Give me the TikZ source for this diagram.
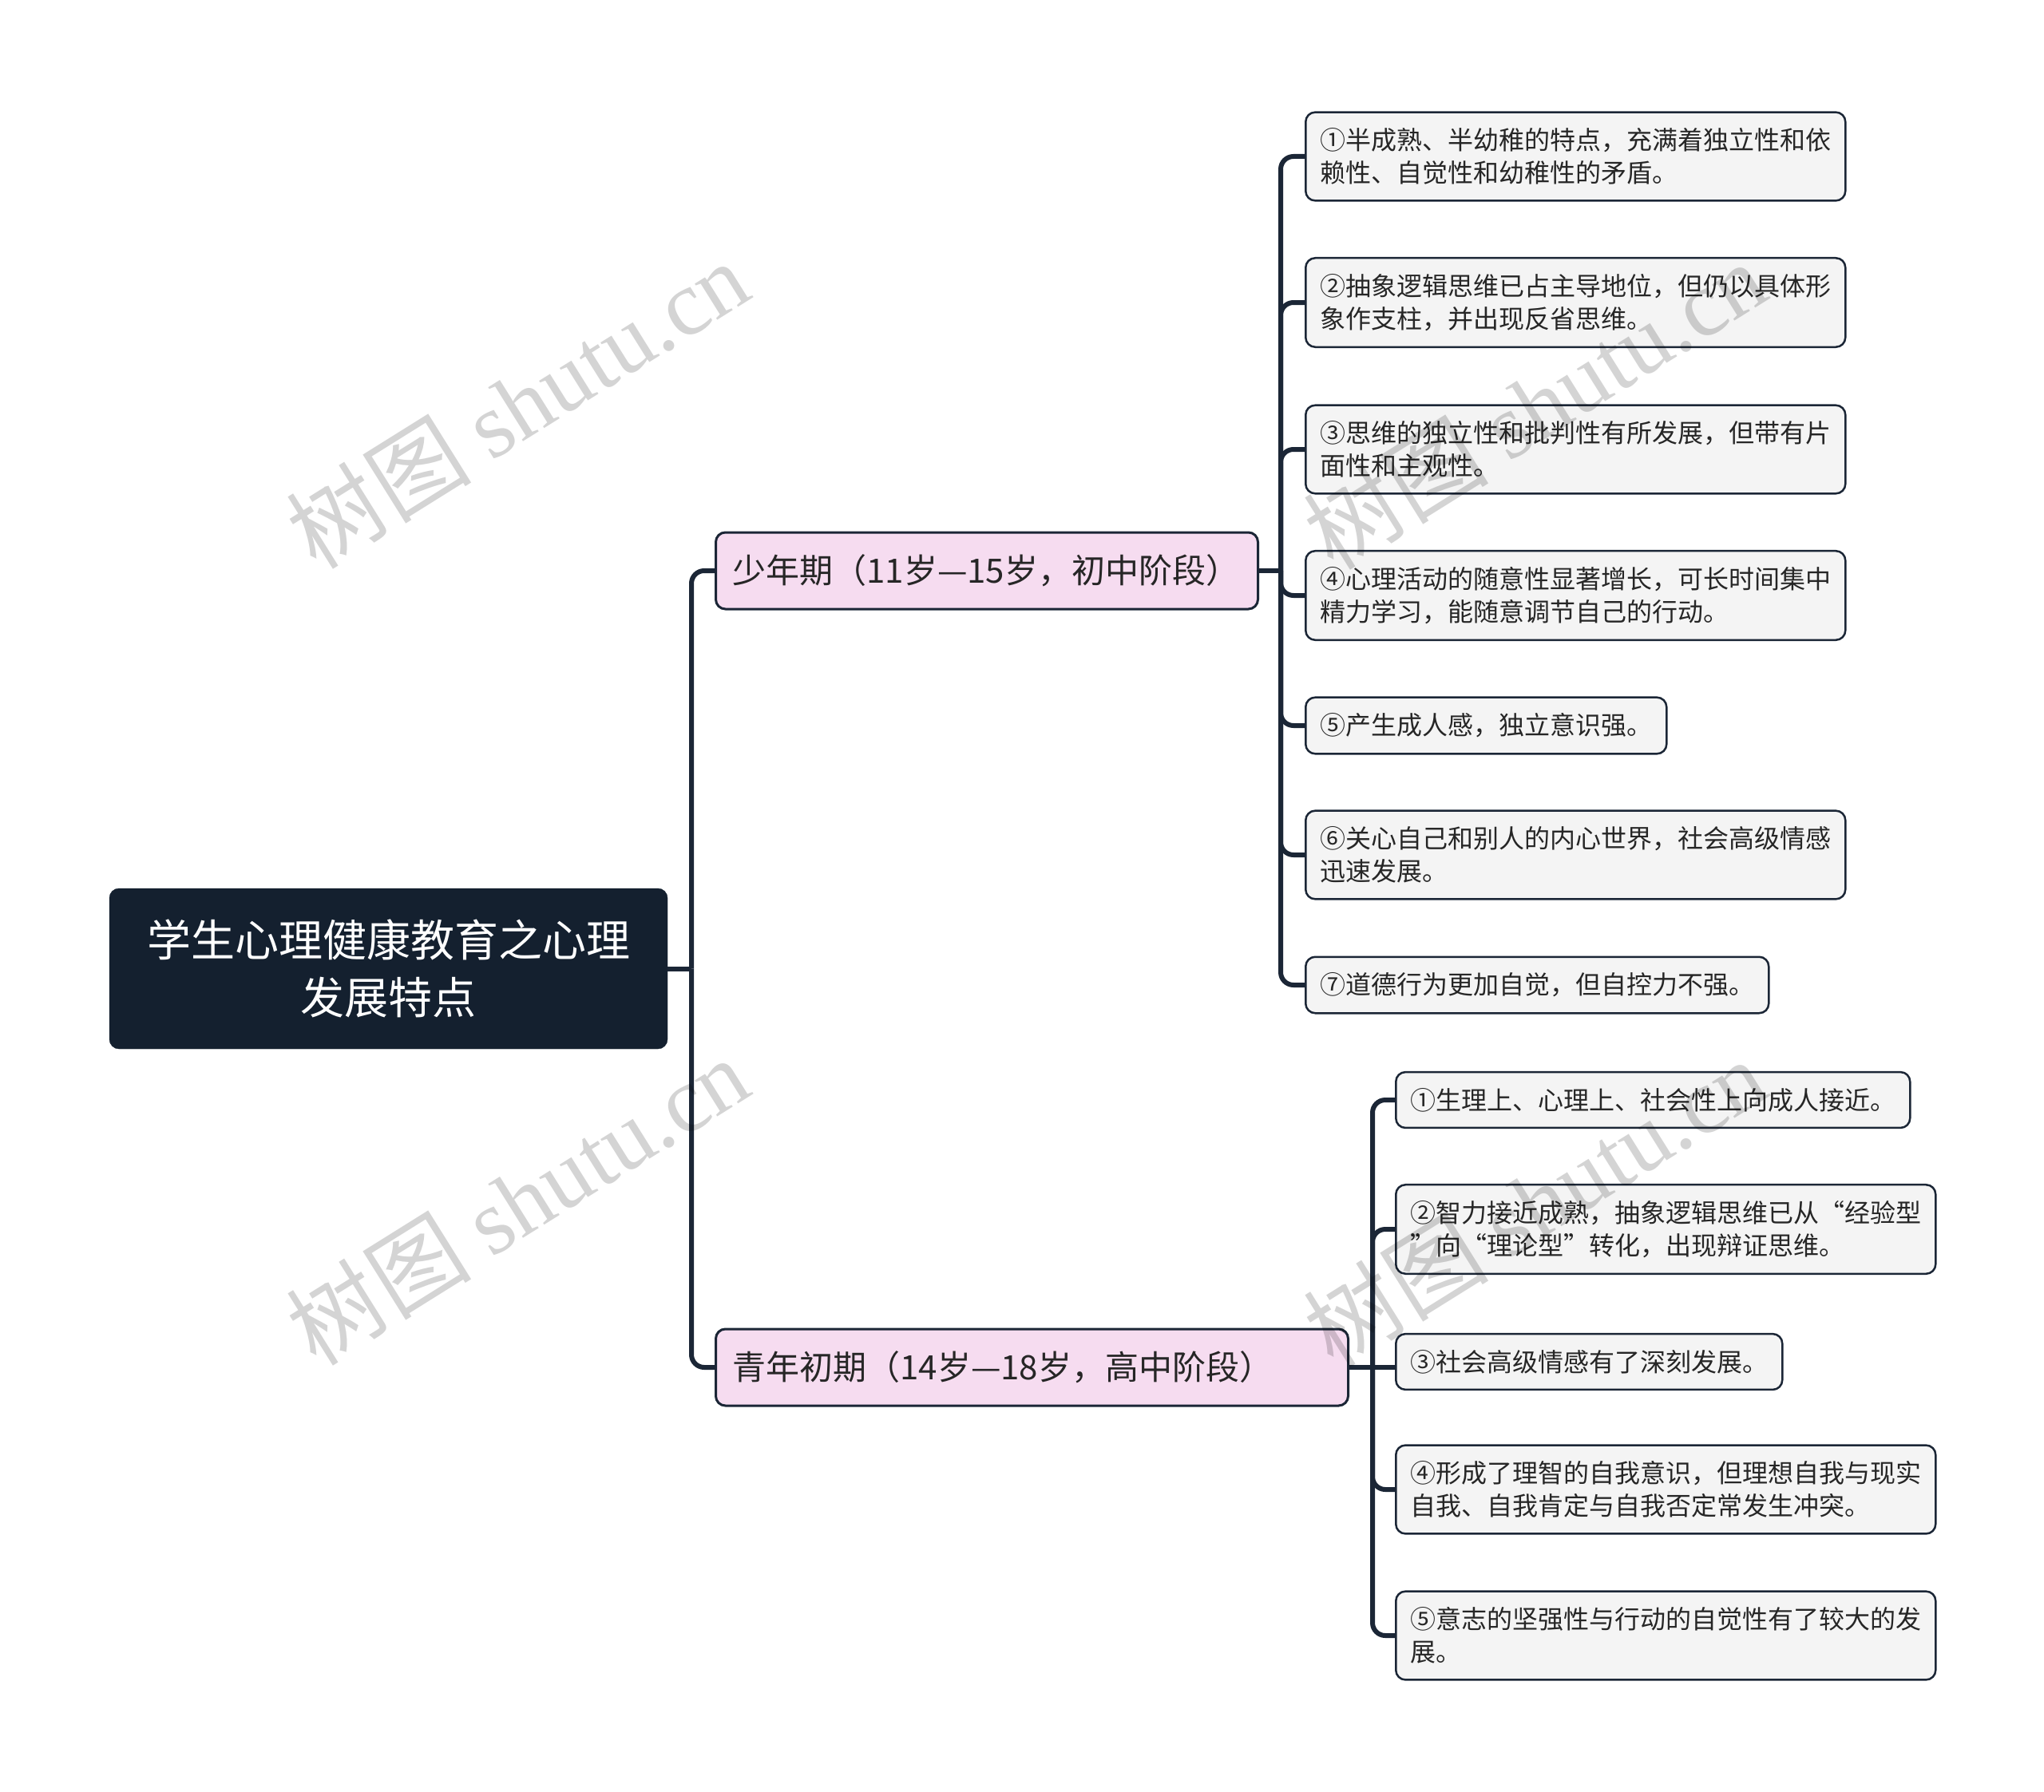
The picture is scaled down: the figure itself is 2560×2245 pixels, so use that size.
\documentclass[tikz,border=0pt]{standalone}
\usepackage{fontspec}
\setmainfont{Noto Sans CJK SC}
\newfontfamily\wmserif{Liberation Serif}
\definecolor{rootfill}{HTML}{14202F}
\definecolor{branchfill}{HTML}{F6DCF0}
\definecolor{leaffill}{HTML}{F4F4F4}
\definecolor{edgecol}{HTML}{1B2636}
\definecolor{textcol}{HTML}{262626}
\begin{document}
\begin{tikzpicture}[x=1pt,y=-1pt,
  conn/.style={draw=edgecol, line width=6pt, rounded corners=16pt},
  rootbox/.style={rectangle, rounded corners=12pt, fill=rootfill, draw=rootfill, text=white,
    font=\fontsize{55}{72}\selectfont, align=center, text width=660pt,
    minimum width=699pt, minimum height=201pt, inner sep=0pt},
  branchbox/.style={rectangle, rounded corners=12pt, fill=branchfill, draw=edgecol, line width=3pt,
    text=textcol, font=\fontsize{42}{50}\selectfont, align=left, minimum height=96pt,
    inner xsep=21pt, inner ysep=0pt, anchor=west},
  leafbox/.style={rectangle, rounded corners=12pt, fill=leaffill, draw=edgecol, line width=2.5pt,
    text=textcol, font=\fontsize{32}{41}\selectfont, align=left, inner xsep=18pt, inner ysep=20pt,
    anchor=west},
  wm/.style={rotate=32, text=black, opacity=0.17, font=\fontsize{116}{116}\selectfont, inner sep=0pt}
]
\useasboundingbox (0,0) rectangle (2560,2245);
\fill[white] (0,0) rectangle (2560,2245);

% root
\node[rootbox] (root) at (486.5,1213.5) {学生心理健康教育之心理\\发展特点};

% branches
\node[branchbox, text width=637pt] (b1) at (895,715) {少年期（11岁—15岁，初中阶段）};
\node[branchbox, text width=750pt] (b2) at (895,1713) {青年初期（14岁—18岁，高中阶段）};

% leaves of branch 1
\node[leafbox] (a1) at (1634,196) {①半成熟、半幼稚的特点，充满着独立性和依\\赖性、自觉性和幼稚性的矛盾。};
\node[leafbox] (a2) at (1634,379) {②抽象逻辑思维已占主导地位，但仍以具体形\\象作支柱，并出现反省思维。};
\node[leafbox] (a3) at (1634,563) {③思维的独立性和批判性有所发展，但带有片\\面性和主观性。};
\node[leafbox] (a4) at (1634,746) {④心理活动的随意性显著增长，可长时间集中\\精力学习，能随意调节自己的行动。};
\node[leafbox] (a5) at (1634,909) {⑤产生成人感，独立意识强。};
\node[leafbox] (a6) at (1634,1071) {⑥关心自己和别人的内心世界，社会高级情感\\迅速发展。};
\node[leafbox] (a7) at (1634,1234) {⑦道德行为更加自觉，但自控力不强。};

% leaves of branch 2
\node[leafbox] (c1) at (1747,1378) {①生理上、心理上、社会性上向成人接近。};
\node[leafbox] (c2) at (1747,1540) {②智力接近成熟，抽象逻辑思维已从“经验型\\”向“理论型”转化，出现辩证思维。};
\node[leafbox] (c3) at (1747,1706) {③社会高级情感有了深刻发展。};
\node[leafbox] (c4) at (1747,1866) {④形成了理智的自我意识，但理想自我与现实\\自我、自我肯定与自我否定常发生冲突。};
\node[leafbox] (c5) at (1747,2049) {⑤意志的坚强性与行动的自觉性有了较大的发\\展。};

% junctions
\coordinate (j0) at (866,1213.5);
\coordinate (j1) at (1604,715);
\coordinate (j2) at (1719,1713);

% connectors
\draw[conn] (root.east) -- (j0);
\draw[conn] (j0) |- (b1.west);
\draw[conn] (j0) |- (b2.west);

\draw[conn] (b1.east) -- (j1);
\foreach \n in {a1,a2,a3,a4,a5,a6,a7} { \draw[conn] (j1) |- (\n.west); }

\draw[conn] (b2.east) -- (j2);
\foreach \n in {c1,c2,c4,c5} { \draw[conn] (j2) |- (\n.west); }
\draw[conn] (j2) -- (j2 -| c3.west);

% watermarks
\node[wm] (w1) at (648,506) {树图 {\wmserif shutu.cn}};
\node[wm] (w2) at (648,1504) {树图 {\wmserif shutu.cn}};
\node[wm] (w3) at (1922,507) {树图 {\wmserif shutu.cn}};
\node[wm] (w4) at (1922,1506) {树图 {\wmserif shutu.cn}};
\end{tikzpicture}
\end{document}
